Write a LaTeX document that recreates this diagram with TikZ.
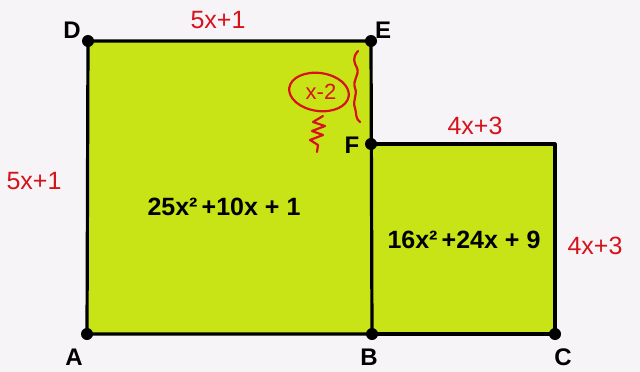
\documentclass[tikz,border=0pt]{standalone}
\usepackage{fontspec}
\setmainfont{Liberation Sans}
\usetikzlibrary{decorations.pathmorphing}
\definecolor{bgc}{RGB}{246,244,246}
\definecolor{fillc}{RGB}{200,228,22}
\definecolor{inkred}{RGB}{214,18,28}
\tikzset{
  pt/.style={circle,fill=black,inner sep=0pt,minimum size=12pt},
  lbl/.style={font=\bfseries\fontsize{24}{24}\selectfont,inner sep=0pt},
  poly/.style={font=\bfseries\fontsize{25}{25}\selectfont,inner sep=0pt},
  hand/.style={text=inkred,font=\fontsize{25}{25}\selectfont,inner sep=0pt},
  edge/.style={draw=black,line width=3.2pt},
  ink/.style={draw=inkred,line width=2.2pt,line cap=round,line join=round}
}
\begin{document}
\begin{tikzpicture}[x=1pt,y=-1pt]
\fill[bgc] (0,0) rectangle (640,372);
\useasboundingbox (0,0) rectangle (640,372);
% corner points
\coordinate (A) at (87,334);
\coordinate (B) at (372,334);
\coordinate (C) at (555,334);
\coordinate (D) at (88,41);
\coordinate (E) at (371,41);
\coordinate (F) at (371,144);
\coordinate (G) at (555,144);
% squares
\fill[fillc] (A) rectangle (E);
\fill[fillc] (B) rectangle (G);
\draw[edge,line join=round] (A) -- (D) -- (E) -- (B) -- cycle;
\draw[edge,line join=round] (F) -- (G) -- (C) -- (B);
% dots
\foreach \p in {A,B,C,D,E,F} \node[pt] at (\p) {};
% labels
\node[lbl] (lA) at (74,357) {A};
\node[lbl] (lB) at (369,357) {B};
\node[lbl] (lC) at (563,357) {C};
\node[lbl] (lD) at (72,30) {D};
\node[lbl] (lE) at (383,30) {E};
\node[lbl] (lF) at (352,145) {F};
% areas
\node[poly] (p1) at (224,207) {25x²\,+10x + 1};
\node[poly] (p2) at (464,240) {16x²\,+24x + 9};
% handwritten side lengths
\node[hand] (h1) at (218,20) {5x+1};
\node[hand] (h2) at (34,181) {5x+1};
\node[hand] (h3) at (475,126) {4x+3};
\node[hand] (h4) at (595,246) {4x+3};
% x-2 annotation
\node[hand,font=\fontsize{22}{22}\selectfont] (h5) at (321,92) {x-2};
\draw[ink] (319,92) ellipse [x radius=30, y radius=19, rotate=-8];
\draw[ink] (323,116) -- (313,122) -- (325,126) -- (312,131) -- (323,135) -- (310,140) -- (318,145) -- (317,152);
\draw[ink] (358,51) .. controls (352,58) and (354,62) .. (357,68)
  .. controls (360,75) and (352,80) .. (355,88)
  .. controls (358,95) and (352,100) .. (355,108)
  .. controls (357,115) and (355,118) .. (360,122);
\end{tikzpicture}
\end{document}
